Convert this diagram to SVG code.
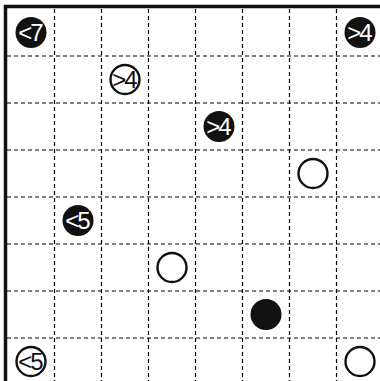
<svg xmlns="http://www.w3.org/2000/svg" width="380" height="381" viewBox="0 0 380 381">
<style>
.g{stroke:#000;stroke-width:1.2;stroke-dasharray:4 3;fill:none}
.b{stroke:#111;stroke-width:3.5;fill:none}
.bk{fill:#111}
.wh{fill:#fff;stroke:#111;stroke-width:2.4}
.tw{fill:#fff;font-family:"Liberation Sans",Arial,sans-serif;font-size:24px;text-anchor:middle;letter-spacing:-2px}
.tb{fill:#111;font-family:"Liberation Sans",Arial,sans-serif;font-size:24px;text-anchor:middle;letter-spacing:-2px}
</style>
<rect width="380" height="381" fill="#fff"/>
<g id="grid">
<path class="g" d="M54.5 9V381M101.5 9V381M148.5 9V381M195.5 9V381M242.5 9V381M289.5 9V381M336.5 9V381"/>
<path class="g" d="M7 56H380M7 103H380M7 150H380M7 197H380M7 244H380M7 291H380M7 338H380"/>
<path class="b" d="M5.5 381V6.5H380"/>
</g>
<g id="c00"><circle class="bk" cx="31" cy="32.5" r="15.5"/><text class="tw" x="30" y="41">&lt;7</text></g>
<g id="c70"><circle class="bk" cx="360" cy="32.5" r="15.5"/><text class="tw" x="359" y="41">&gt;4</text></g>
<g id="c21"><circle class="wh" cx="125" cy="79.5" r="14.5"/><text class="tb" x="124" y="88">&gt;4</text></g>
<g id="c42"><circle class="bk" cx="219" cy="126.5" r="15.5"/><text class="tw" x="218" y="135">&gt;4</text></g>
<g id="c63"><circle class="wh" cx="313" cy="173.5" r="14.5"/></g>
<g id="c14"><circle class="bk" cx="78" cy="220.5" r="15.5"/><text class="tw" x="77" y="229">&lt;5</text></g>
<g id="c35"><circle class="wh" cx="172" cy="267.5" r="14.5"/></g>
<g id="c56"><circle class="bk" cx="266" cy="314.5" r="15.5"/></g>
<g id="c07"><circle class="wh" cx="31" cy="361.5" r="14.5"/><text class="tb" x="30" y="370">&lt;5</text></g>
<g id="c77"><circle class="wh" cx="360" cy="361.5" r="14.5"/></g>
</svg>
